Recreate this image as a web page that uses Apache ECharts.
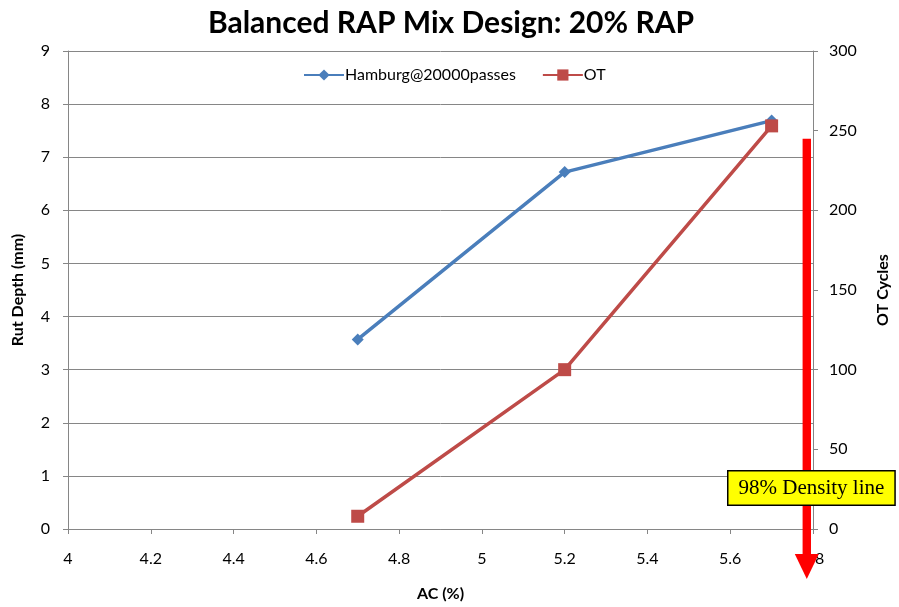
<!DOCTYPE html>
<html><head><meta charset="utf-8">
<script src="https://cdn.jsdelivr.net/npm/echarts@6/dist/echarts.min.js"></script>
<style>html,body{margin:0;padding:0;background:#fff}#c{width:899px;height:607px}</style>
</head><body><div id="c"></div>
<script>
const acValues = [4.7, 5.2, 5.7];
const hamburgRut = [3.57, 6.72, 7.69];
const otCycles = [8, 100, 253];
const densityLineX = [5.785];
const densityLineFromY = [7.35];
const densityLineToY = [-0.94];
const annotationText = '98% Density line';

const chart = echarts.init(document.getElementById('c'), null, {renderer: 'canvas'});
const FONT = 'Lato';
const axisGray = '#868686';
chart.setOption({
  animation: false,
  backgroundColor: '#ffffff',
  title: {
    text: 'Balanced RAP Mix Design: 20% RAP',
    left: 446, top: 3, textAlign: 'center',
    textStyle: {fontFamily: FONT, fontWeight: 'bold', fontSize: 30, color: '#000'}
  },
  legend: {
    left: 298, top: 62,
    itemWidth: 40, itemHeight: 14, itemGap: 26,
    textStyle: {fontFamily: FONT, fontSize: 16, color: '#000', padding: [0,0,0,-4]},
    data: ['Hamburg@20000passes', 'OT']
  },
  grid: {left: 68, right: 82, top: 51, bottom: 75},
  xAxis: {
    type: 'value', min: 4, max: 5.8, interval: 0.2,
    name: 'AC (%)', nameLocation: 'middle', nameGap: 57,
    nameTextStyle: {fontFamily: FONT, fontWeight: 'bold', fontSize: 16, color: '#000'},
    axisLine: {show: true, lineStyle: {color: axisGray, width: 1}},
    axisTick: {show: true, length: 5, lineStyle: {color: axisGray}},
    axisLabel: {fontFamily: FONT, fontSize: 16, color: '#000', margin: 22},
    splitLine: {show: false}
  },
  yAxis: [{
    type: 'value', min: 0, max: 9, interval: 1, position: 'left',
    name: 'Rut Depth (mm)', nameLocation: 'middle', nameGap: 42,
    nameTextStyle: {fontFamily: FONT, fontWeight: 'bold', fontSize: 16, color: '#000'},
    axisLine: {show: true, lineStyle: {color: axisGray, width: 1}},
    axisTick: {show: true, length: 5, lineStyle: {color: axisGray}},
    axisLabel: {fontFamily: FONT, fontSize: 16, color: '#000', margin: 18},
    splitLine: {show: true, lineStyle: {color: axisGray, width: 1}}
  }, {
    type: 'value', min: 0, max: 300, interval: 50, position: 'right',
    name: 'OT Cycles', nameLocation: 'middle', nameGap: 62,
    nameTextStyle: {fontFamily: FONT, fontWeight: 'bold', fontSize: 16, color: '#000'},
    axisLine: {show: true, lineStyle: {color: axisGray, width: 1}},
    axisTick: {show: true, length: 5, lineStyle: {color: axisGray}},
    axisLabel: {fontFamily: FONT, fontSize: 16, color: '#000', margin: 16},
    splitLine: {show: false}
  }],
  series: [{
    name: 'Hamburg@20000passes', type: 'line', yAxisIndex: 0,
    data: acValues.map((x, i) => [x, hamburgRut[i]]),
    symbol: 'diamond', symbolSize: 12,
    lineStyle: {color: '#4a7ebb', width: 3.5},
    itemStyle: {color: '#4a7ebb'}
  }, {
    name: 'OT', type: 'line', yAxisIndex: 1,
    data: acValues.map((x, i) => [x, otCycles[i]]),
    symbol: 'rect', symbolSize: 13,
    lineStyle: {color: '#be4b48', width: 3.5},
    itemStyle: {color: '#be4b48'}
  }, {
    name: 'density', type: 'custom', yAxisIndex: 0, clip: false, silent: true, z: 10,
    data: densityLineX.map((x, i) => [x, densityLineFromY[i], densityLineToY[i]]),
    encode: {x: 0, y: [1, 2]},
    renderItem: function (params, api) {
      const top = api.coord([api.value(0), api.value(1)]);
      const tip = api.coord([api.value(0), api.value(2)]);
      const headH = 25, headW = 12, shaft = 4.2;
      const cx = top[0];
      return {
        type: 'group',
        children: [{
          type: 'rect',
          shape: {x: cx - shaft, y: top[1], width: shaft * 2, height: tip[1] - headH - top[1] + 1},
          style: {fill: '#ff0000'}
        }, {
          type: 'polygon',
          shape: {points: [[cx - headW, tip[1] - headH], [cx + headW, tip[1] - headH], [cx, tip[1]]]},
          style: {fill: '#ff0000'}
        }]
      };
    }
  }],
  graphic: [{
    type: 'text', left: 727, top: 470, z: 100,
    style: {
      text: annotationText,
      font: '21px "Liberation Serif", "Times New Roman", serif',
      fill: '#000',
      backgroundColor: '#ffff00',
      borderColor: '#000', borderWidth: 1.5,
      padding: [6, 10, 6, 10]
    }
  }]
});
</script></body></html>
